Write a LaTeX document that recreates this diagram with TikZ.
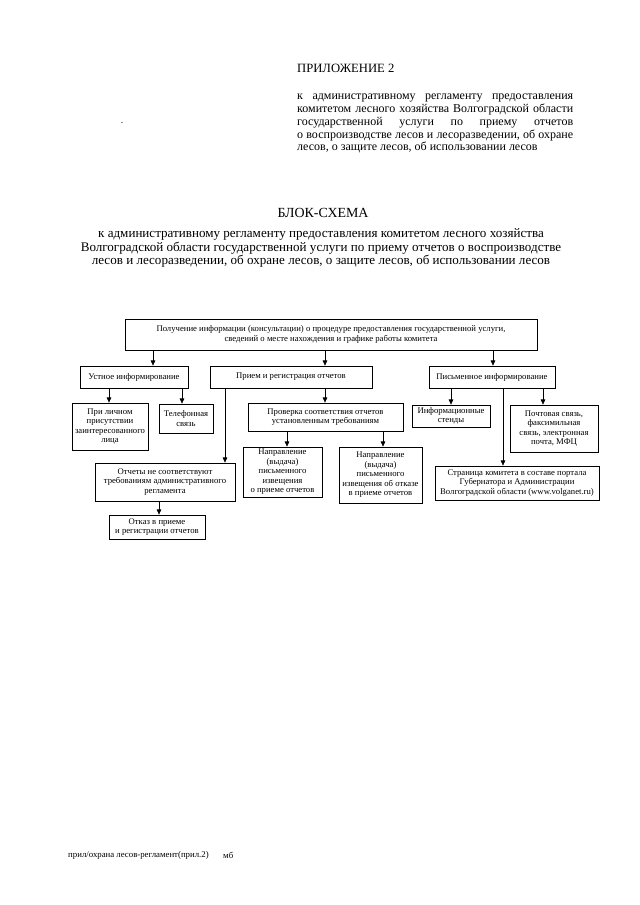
\documentclass[tikz,border=0pt]{standalone}
\usepackage{fontspec}
\setmainfont{Liberation Serif}
\usetikzlibrary{arrows.meta,positioning,calc}
\newcommand{\upx}{0.328125mm}
\tikzset{
  blk/.style={draw,rectangle,line width=0.7pt,align=center,inner sep=1pt,font=\fontsize{8.1}{8.9}\selectfont},
  arr/.style={-{Triangle[length=1.7mm,width=1.5mm]},line width=0.6pt},
  hdr/.style={inner sep=0pt,font=\fontsize{11.8}{12.5}\selectfont},
  para/.style={inner sep=0pt,font=\fontsize{11.2}{11.9}\selectfont},
  foot/.style={inner sep=0pt,font=\fontsize{8.2}{9}\selectfont}
}

\begin{document}
\begin{tikzpicture}[x=\upx, y=-\upx]
  \useasboundingbox (0,0) rectangle (640,905);
  % Header
  \node[hdr, anchor=west] (appx) at (297,68) {ПРИЛОЖЕНИЕ 2};
  \node[para, anchor=north west, text width=276*\upx, align=justify] (reg) at (297,94)
    {к административному регламенту предоставления\linebreak
     комитетом лесного хозяйства Волгоградской области\linebreak
     государственной услуги по приему отчетов\linebreak
     о воспроизводстве лесов и лесоразведении, об охране\linebreak
     лесов, о защите лесов, об использовании лесов};
  \node[inner sep=0pt, font=\small] (dot) at (122,123) {.};

  % Title
  \node[hdr, font=\fontsize{13}{14}\selectfont] (title) at (323,213) {БЛОК-СХЕМА};
  \node[para, align=center, font=\fontsize{12.2}{12.9}\selectfont] (sub) at (321,248)
    {к административному регламенту предоставления комитетом лесного хозяйства\\
     Волгоградской области государственной услуги по приему отчетов о воспроизводстве\\
     лесов и лесоразведении, об охране лесов, о защите лесов, об использовании лесов};

  % Top box
  \node[blk, minimum width=412*\upx, minimum height=31*\upx] (info) at (331,334.5)
    {Получение информации (консультации) о процедуре предоставления государственной услуги,\\
     сведений о месте нахождения и графике работы комитета};

  % Second row
  \node[blk, minimum width=108*\upx, minimum height=22*\upx] (ustn) at (134,377) {Устное информирование};
  \node[blk, minimum width=162*\upx, minimum height=22*\upx] (priem) at (291,377) {Прием и регистрация отчетов};
  \node[blk, minimum width=126*\upx, minimum height=22*\upx] (pism) at (492,377) {Письменное информирование};

  % Third row
  \node[blk, minimum width=76*\upx, minimum height=47*\upx] (lichn) at (110,426.5)
    {При личном\\ присутствии\\ заинтересованного\\ лица};
  \node[blk, minimum width=54*\upx, minimum height=29*\upx] (tel) at (186,418.5) {Телефонная\\ связь};
  \node[blk, minimum width=155*\upx, minimum height=28*\upx] (prov) at (325.5,417)
    {Проверка соответствия отчетов\\ установленным требованиям};
  \node[blk, minimum width=78*\upx, minimum height=22*\upx] (stend) at (451,416) {Информационные\\ стенды};
  \node[blk, minimum width=88*\upx, minimum height=47*\upx] (pocht) at (554,428.5)
    {Почтовая связь,\\ факсимильная\\ связь, электронная\\ почта, МФЦ};

  % Fourth row
  \node[blk, minimum width=140*\upx, minimum height=38*\upx] (otch) at (165,482)
    {Отчеты не соответствуют\\ требованиям административного\\ регламента};
  \node[blk, minimum width=79*\upx, minimum height=50*\upx] (napr1) at (282.5,472)
    {Направление\\ (выдача)\\ письменного\\ извещения\\ о приеме отчетов};
  \node[blk, minimum width=83*\upx, minimum height=56*\upx] (napr2) at (380.5,475)
    {Направление\\ (выдача)\\ письменного\\ извещения об отказе\\ в приеме отчетов};
  \node[blk, minimum width=164*\upx, minimum height=34*\upx] (stran) at (517,483)
    {Страница комитета в составе портала\\ Губернатора и Администрации\\ Волгоградской области (www.volganet.ru)};
  \node[blk, minimum width=96*\upx, minimum height=24*\upx] (otkaz) at (157,527)
    {Отказ в приеме\\ и регистрации отчетов};

  % Connections
  \draw[arr] (info.south -| 153,0) -- (ustn.north -| 153,0);
  \draw[arr] (info.south -| 325,0) -- (priem.north -| 325,0);
  \draw[arr] (info.south -| 493,0) -- (pism.north -| 493,0);
  \draw[arr] (ustn.south -| 109,0) -- (lichn.north -| 109,0);
  \draw[arr] (ustn.south -| 182,0) -- (tel.north -| 182,0);
  \draw[arr] (priem.south -| 325,0) -- (prov.north -| 325,0);
  \draw[arr] (priem.south -| 225,0) -- (otch.north -| 225,0);
  \draw[arr] (prov.south -| 287,0) -- (napr1.north -| 287,0);
  \draw[arr] (prov.south -| 383,0) -- (napr2.north -| 383,0);
  \draw[arr] (otch.south -| 159,0) -- (otkaz.north -| 159,0);
  \draw[arr] (pism.south -| 451,0) -- (stend.north -| 451,0);
  \draw[arr] (pism.south -| 543,0) -- (pocht.north -| 543,0);
  \draw[arr] (pism.south -| 503,0) -- (stran.north -| 503,0);

  % Footer
  \node[foot, anchor=west] (fname) at (68,855) {прил/охрана лесов-регламент(прил.2)};
  \node[foot, anchor=west] (fmark) at (223,855) {мб};
\end{tikzpicture}
\end{document}
